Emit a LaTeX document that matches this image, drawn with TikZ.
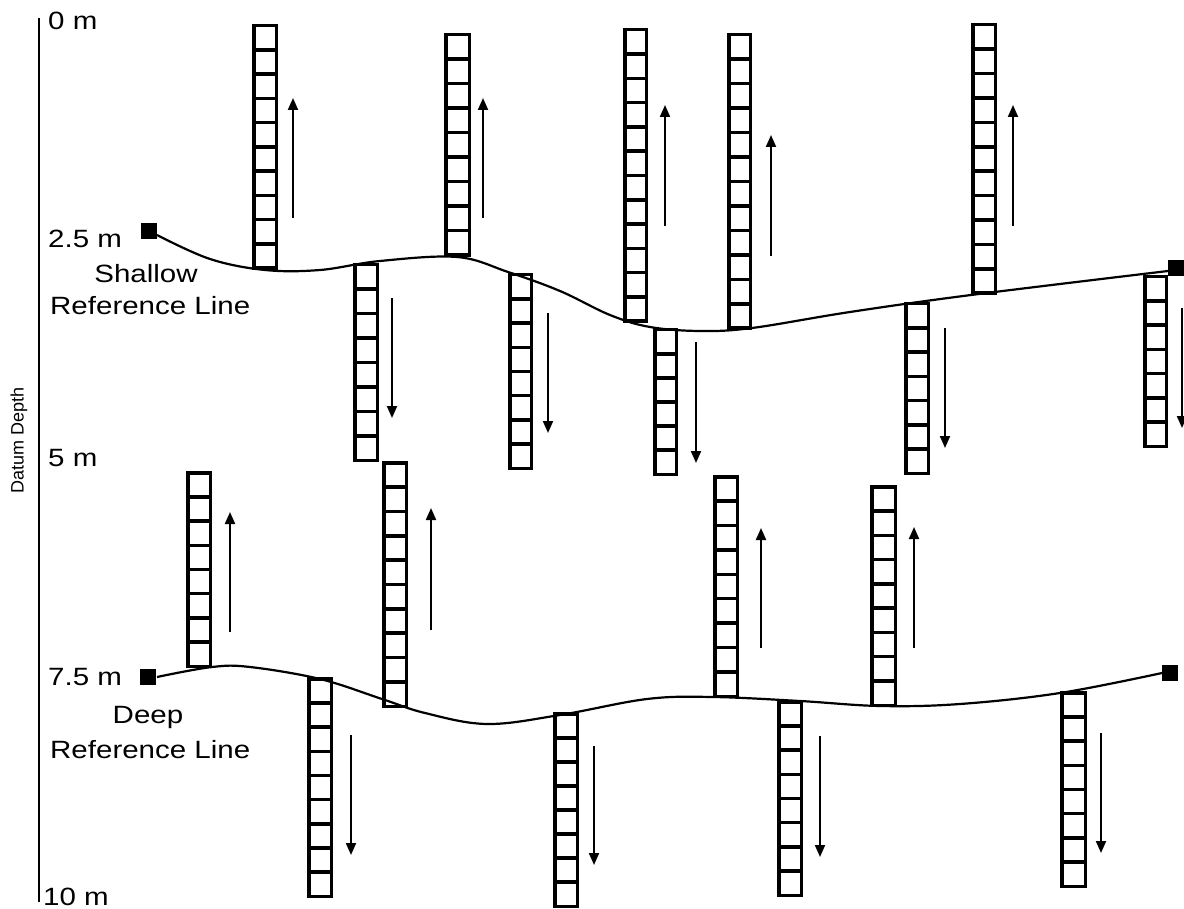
\documentclass[tikz,border=0pt]{standalone}
\usepackage{fontspec}
\setmainfont{Liberation Sans}[FakeStretch=1.18]
\newfontfamily\axisfont{Liberation Sans}
\usetikzlibrary{arrows.meta,calc}

\tikzset{
  ladder/.style={draw, line width=3.5pt, inner sep=0pt, outer sep=0pt, anchor=north},
  cellrule/.style={line width=3.5pt},
  flow/.style={line width=2pt, -{Triangle[width=10pt,length=12pt]}},
  refline/.style={line width=2.2pt},
  endmark/.style={fill=black, inner sep=0pt, minimum size=16pt},
  lbl/.style={font=\fontsize{25}{31}\selectfont, inner sep=0pt},
}

% \ladderbox{name}{x left}{x right}{y top}{y bottom}{cells}
\newcommand\ladderbox[6]{%
  \pgfmathsetmacro\lw{#3-#2-3.5}%
  \pgfmathsetmacro\lh{#5-#4-3.5}%
  \pgfmathsetmacro\lc{(#2+#3)/2}%
  \pgfmathsetmacro\lt{#4+1.75}%
  \pgfmathtruncatemacro\lm{#6-1}%
  \node[ladder, minimum width=\lw pt, minimum height=\lh pt] (#1) at (\lc,\lt) {};
  \foreach \k in {1,...,\lm}{%
    \draw[cellrule] ($(#1.north west)!\k/#6!(#1.south west)$) -- ($(#1.north east)!\k/#6!(#1.south east)$);
  }%
}

\begin{document}
\begin{tikzpicture}[x=1pt,y=-1pt]
\useasboundingbox (0,0) rectangle (1184,909);

% depth axis
\draw[line width=2pt] (39,18) -- (39,902);
\node[font=\axisfont\fontsize{18}{20}\selectfont, rotate=90, inner sep=0pt] (axis) at (19,440) {Datum Depth};

% depth labels
\node[lbl, anchor=base west] (d0) at (48,30) {0 m};
\node[lbl, anchor=base west] (d25) at (48,248) {2.5 m};
\node[lbl, anchor=base west] (d5) at (48,466) {5 m};
\node[lbl, anchor=base west] (d75) at (48,685) {7.5 m};
\node[lbl, anchor=base west] (d10) at (43,905) {10 m};

\node[lbl, anchor=base] (sh1) at (146,283) {Shallow};
\node[lbl, anchor=base west] (sh2) at (50,315) {Reference Line};
\node[lbl, anchor=base] (dp1) at (148,723) {Deep};
\node[lbl, anchor=base west] (dp2) at (50,758) {Reference Line};

% shallow reference line
\node[endmark] (sL) at (149,231) {};
\node[endmark] (sR) at (1176,268) {};
\draw[refline] plot[smooth, tension=0.6] coordinates {
  (157,235) (210,259) (265,270) (320,270) (380,261) (457,257) (508,272)
  (560,291) (610,315) (650,327) (700,331) (752,328) (850,312) (971,295)
  (1168,271)};

% deep reference line
\node[endmark] (dL) at (148,677) {};
\node[endmark] (dR) at (1170,673) {};
\draw[refline] plot[smooth, tension=0.6] coordinates {
  (157,677) (212,667) (250,667) (320,679) (382,699) (425,713) (487,724)
  (560,715) (647,699) (713,697) (800,701) (880,706) (960,704) (1060,693)
  (1162,673)};

% shallow upward ladders
\ladderbox{A}{252}{278}{24}{270}{10}
\ladderbox{B}{444}{471}{33}{257}{9}
\ladderbox{C}{623}{648}{28}{323}{12}
\ladderbox{D}{727}{752}{33}{330}{12}
\ladderbox{E}{971}{997}{23}{295}{11}
% shallow downward ladders
\ladderbox{F}{353}{379}{263}{462}{8}
\ladderbox{G}{508}{533}{273}{470}{8}
\ladderbox{H}{653}{678}{328}{476}{6}
\ladderbox{I}{904}{930}{302}{475}{7}
\ladderbox{J}{1143}{1168}{275}{448}{7}
% deep upward ladders
\ladderbox{K}{186}{212}{471}{668}{8}
\ladderbox{L}{382}{408}{461}{708}{10}
\ladderbox{M}{713}{739}{475}{698}{9}
\ladderbox{N}{870}{897}{485}{707}{9}
% deep downward ladders
\ladderbox{O}{307}{333}{677}{898}{9}
\ladderbox{P}{553}{579}{712}{908}{8}
\ladderbox{Q}{777}{803}{700}{897}{8}
\ladderbox{R}{1060}{1087}{691}{888}{8}

% direction arrows
\foreach \x/\ya/\yb in {293/218/98, 483/218/98, 665/226/105, 771/256/135, 1013/226/105,
  392/298/418, 548/313/433, 696/342/463, 945/328/448, 1182/308/428,
  230/632/512, 431/630/508, 761/648/528, 914/648/527,
  351/735/855, 594/746/865, 820/736/857, 1101/733/853}
  \draw[flow] (\x,\ya) -- (\x,\yb);
\end{tikzpicture}
\end{document}
